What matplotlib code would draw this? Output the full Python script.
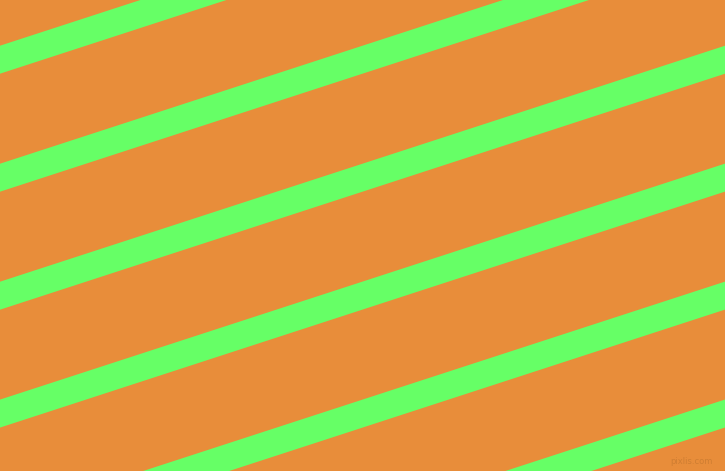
import numpy as np
import matplotlib.pyplot as plt

W, H = 725, 471

# stripe centre lines: y where each band crosses x=0 (pixels, y down)
stripe_offsets = [59.7, 177.7, 295.7, 413.6, 531.6, 649.5]
stripe_slope = -0.3255     # dy/dx of every band
stripe_height = 28.0       # vertical thickness of a band

bg_color = '#e88d3a'
stripe_color = '#66ff66'

fig = plt.figure(figsize=(W / 100, H / 100), dpi=100)
ax = fig.add_axes([0, 0, 1, 1])
ax.set_facecolor(bg_color)
ax.set_xlim(0, W)
ax.set_ylim(H, 0)
ax.axis('off')
fig.patch.set_facecolor(bg_color)

x = np.array([-10, W + 10])
for c in stripe_offsets:
    mid = c + stripe_slope * x
    ax.fill_between(x, mid - stripe_height / 2, mid + stripe_height / 2,
                    color=stripe_color, linewidth=0)

ax.text(713, 461, 'pixlis.com', ha='right', va='center', fontsize=6,
        color='#c97a30', alpha=0.8)

fig.savefig('out.png', dpi=100, facecolor=bg_color)
